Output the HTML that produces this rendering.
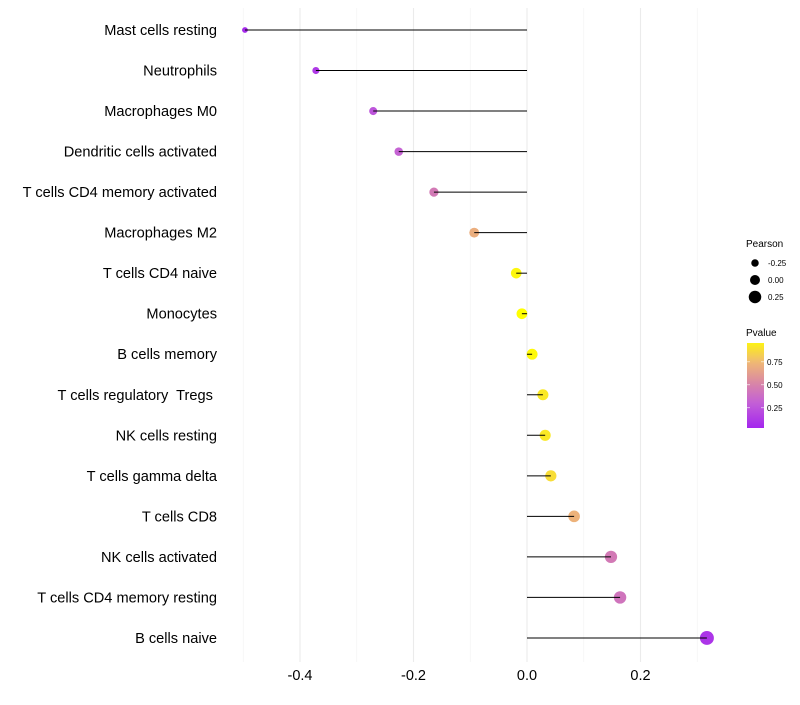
<!DOCTYPE html>
<html><head><meta charset="utf-8"><style>
body{margin:0;background:#fff;font-family:"Liberation Sans",sans-serif}
text{white-space:pre}
</style></head><body>
<svg id="c" width="800" height="700" xmlns="http://www.w3.org/2000/svg"></svg>
<script>
const categories=["Mast cells resting","Neutrophils","Macrophages M0","Dendritic cells activated","T cells CD4 memory activated","Macrophages M2","T cells CD4 naive","Monocytes","B cells memory","T cells regulatory  Tregs ","NK cells resting","T cells gamma delta","T cells CD8","NK cells activated","T cells CD4 memory resting","B cells naive"];
const pearson=[-0.497,-0.372,-0.271,-0.226,-0.164,-0.093,-0.019,-0.009,0.009,0.028,0.032,0.042,0.083,0.148,0.164,0.317];
const pvalue=[0.05,0.12,0.25,0.32,0.45,0.7,0.97,1.0,0.98,0.92,0.92,0.88,0.72,0.45,0.42,0.1];
const xTicks=[-0.4,-0.2,0.0,0.2];
const xMinor=[-0.5,-0.3,-0.1,0.1,0.3];
const sizeLegend=[-0.25,0,0.25];
const pLegend=[0.25,0.5,0.75];
const NS="http://www.w3.org/2000/svg",svg=document.getElementById('c');
const x=v=>527+v*567.5, y=i=>30+i*40.53, r=p=>5.4+5*p;
const stops=[[0,[160,32,240]],[0.3,[195,95,215]],[0.5,[215,130,170]],[0.75,[240,185,115]],[1,[255,255,0]]];
function col(p){for(let k=1;k<stops.length;k++){if(p<=stops[k][0]){const a=stops[k-1],b=stops[k],t=(p-a[0])/(b[0]-a[0]);return'rgb('+a[1].map((c,j)=>Math.round(c+(b[1][j]-c)*t)).join(',')+')';}}return'rgb(255,255,0)';}
function el(t,a,txt){const e=document.createElementNS(NS,t);for(const k in a)e.setAttribute(k,a[k]);if(txt!==undefined)e.textContent=txt;svg.appendChild(e);return e;}
xMinor.forEach(v=>{const g=el('line',{x1:x(v),x2:x(v),y1:8,y2:662,stroke:'#f3f3f3','stroke-width':0.6});});
xTicks.forEach(v=>{const g=el('line',{x1:x(v),x2:x(v),y1:8,y2:662,stroke:'#ebebeb','stroke-width':1.1});
const t=el('text',{x:x(v),y:680,'font-size':14.5,'text-anchor':'middle',fill:'#000'},v.toFixed(1));});
categories.forEach((c,i)=>{
const t=el('text',{x:217,y:y(i)+5,'font-size':14.6,'text-anchor':'end',fill:'#000'},c);
const d=el('circle',{cx:x(pearson[i]),cy:y(i),r:r(pearson[i]),fill:col(pvalue[i])});
const l=el('line',{x1:x(0),x2:x(pearson[i]),y1:y(i),y2:y(i),stroke:'#000','stroke-width':1});
});
let t=el('text',{x:746,y:247,'font-size':10},'Pearson');
sizeLegend.forEach((v,k)=>{const cy=263+k*17;const c=el('circle',{cx:755,cy:cy,r:r(v)-0.4,fill:'#000'});
const s=el('text',{x:768,y:cy+3,'font-size':8},v.toFixed(2));});
t=el('text',{x:746,y:336,'font-size':10},'Pvalue');
const defs=el('defs',{});const lg=document.createElementNS(NS,'linearGradient');lg.setAttribute('id','g');lg.setAttribute('x1',0);lg.setAttribute('y1',1);lg.setAttribute('x2',0);lg.setAttribute('y2',0);defs.appendChild(lg);
const p0=0.03,p1=0.955;
for(let k=0;k<=20;k++){const p=p0+(p1-p0)*k/20;const s=document.createElementNS(NS,'stop');s.setAttribute('offset',k/20);s.setAttribute('stop-color',col(p));lg.appendChild(s);}
const yb=p=>428-(p-p0)/(p1-p0)*85;
const bar=el('rect',{x:747,y:343,width:17,height:85,fill:'url(#g)'});
pLegend.forEach(v=>{el('line',{x1:747,x2:750,y1:yb(v),y2:yb(v),stroke:'#fff','stroke-width':0.6});el('line',{x1:761,x2:764,y1:yb(v),y2:yb(v),stroke:'#fff','stroke-width':0.6});
const s=el('text',{x:767,y:yb(v)+3,'font-size':8},v.toFixed(2));});
</script>
</body></html>
